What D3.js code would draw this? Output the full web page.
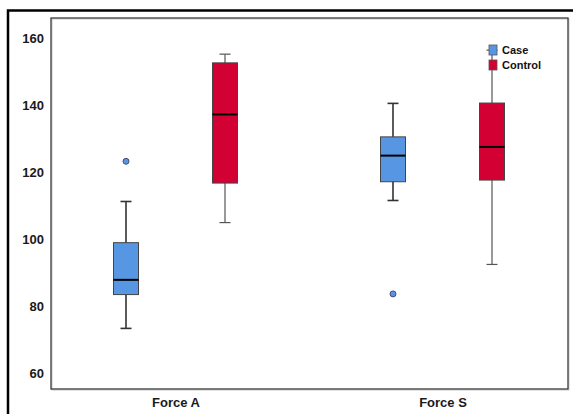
<!DOCTYPE html>
<html>
<head>
<meta charset="utf-8">
<script src="https://cdn.jsdelivr.net/npm/d3@7"></script>
<style>
  body { margin: 0; background: #fff; }
  text { font-family: "Liberation Sans", Arial, sans-serif; }
</style>
</head>
<body>
<div id="chart"></div>
<script>
// data
var categories = ["Force A", "Force S"];
var groups = ["Case", "Control"];
var colors = ["#5796e3", "#d30034"];
var yTicks = [60, 80, 100, 120, 140, 160];

// [whiskerLow, q1, median, q3, whiskerHigh] per group, per category
var caseStats = [[73.4, 83.5, 87.9, 99.0, 111.3], [111.6, 117.2, 125.0, 130.6, 140.6]];
var controlStats = [[105.0, 116.8, 137.3, 152.7, 155.3], [92.5, 117.7, 127.6, 140.7, 156.5]];
var caseOutliers = [[123.3], [83.7]];
var controlOutliers = [[], []];

var W = 573, H = 414;
var plot = {left: 51, top: 18, right: 568, bottom: 389};

var svg = d3.select("#chart")
  .append("svg")
    .attr("width", W)
    .attr("height", H);

// outer frame (runs off the right and bottom edges)
svg.append("rect")
  .attr("x", 8).attr("y", 10.5)
  .attr("width", W + 20).attr("height", H + 20)
  .attr("fill", "none")
  .attr("stroke", "#000")
  .attr("stroke-width", 2.5);

var y = d3.scaleLinear()
  .domain([55.3, 166.1])
  .range([plot.bottom, plot.top]);

var x = d3.scalePoint()
  .domain(categories)
  .range([175.5, 442.5]);

var xg = d3.scalePoint()
  .domain(groups)
  .range([-49.5, 49.5]);

var boxW = 25, capW = 11;

// plot frame
svg.append("rect")
  .attr("x", plot.left + 1).attr("y", plot.top + 1)
  .attr("width", plot.right - plot.left).attr("height", plot.bottom - plot.top)
  .attr("fill", "none").attr("stroke", "#c8c8c8").attr("stroke-width", 1);
svg.append("rect")
  .attr("x", plot.left).attr("y", plot.top)
  .attr("width", plot.right - plot.left).attr("height", plot.bottom - plot.top)
  .attr("fill", "none").attr("stroke", "#3a3a3a").attr("stroke-width", 1.3);

// y axis labels (no tick marks)
var yAxis = svg.append("g")
  .attr("transform", "translate(" + plot.left + ",0)")
  .call(d3.axisLeft(y).tickValues(yTicks).tickSize(0).tickPadding(7));
yAxis.select(".domain").remove();
yAxis.selectAll("text")
  .style("font-family", "'Liberation Sans', Arial, sans-serif")
  .style("font-size", "13px")
  .style("font-weight", "bold")
  .attr("fill", "#1a1a1a");

// x axis labels
var xAxis = svg.append("g")
  .attr("transform", "translate(0," + plot.bottom + ")")
  .call(d3.axisBottom(x).tickSize(0).tickPadding(9));
xAxis.select(".domain").remove();
xAxis.selectAll("text")
  .style("font-family", "'Liberation Sans', Arial, sans-serif")
  .style("font-size", "13px")
  .style("font-weight", "bold")
  .attr("fill", "#1a1a1a");

var allStats = [caseStats, controlStats];
var allOutliers = [caseOutliers, controlOutliers];
var whiskerColor = ["#333", "#555"];
var whiskerWidth = [1.6, 1.2];

var boxes = [];
groups.forEach(function(g, gi) {
  categories.forEach(function(c, ci) {
    boxes.push({cat: c, group: g, gi: gi, s: allStats[gi][ci], out: allOutliers[gi][ci]});
  });
});

var bg = svg.append("g").selectAll("g")
  .data(boxes)
  .enter()
  .append("g")
    .attr("transform", d => "translate(" + (x(d.cat) + xg(d.group)) + ",0)");

// whisker stem
bg.append("line")
  .attr("x1", 0).attr("x2", 0)
  .attr("y1", d => y(d.s[0])).attr("y2", d => y(d.s[4]))
  .attr("stroke", d => whiskerColor[d.gi])
  .attr("stroke-width", d => whiskerWidth[d.gi]);

// caps
bg.selectAll(".cap")
  .data(d => [d.s[0], d.s[4]].map(v => ({v: v, gi: d.gi})))
  .enter()
  .append("line")
    .attr("class", "cap")
    .attr("x1", -capW / 2).attr("x2", capW / 2)
    .attr("y1", d => y(d.v)).attr("y2", d => y(d.v))
    .attr("stroke", d => whiskerColor[d.gi])
    .attr("stroke-width", d => whiskerWidth[d.gi]);

// box
bg.append("rect")
  .attr("x", -boxW / 2)
  .attr("y", d => y(d.s[3]))
  .attr("width", boxW)
  .attr("height", d => y(d.s[1]) - y(d.s[3]))
  .attr("fill", d => colors[d.gi])
  .attr("stroke", "#444")
  .attr("stroke-width", 1);

// median
bg.append("line")
  .attr("x1", -boxW / 2).attr("x2", boxW / 2)
  .attr("y1", d => y(d.s[2])).attr("y2", d => y(d.s[2]))
  .attr("stroke", "#000")
  .attr("stroke-width", 2);

// outliers
bg.selectAll("circle")
  .data(d => d.out.map(v => ({v: v, gi: d.gi})))
  .enter()
  .append("circle")
    .attr("cx", 0)
    .attr("cy", d => y(d.v))
    .attr("r", 3)
    .attr("fill", d => colors[d.gi])
    .attr("stroke", "#335")
    .attr("stroke-width", 0.8);

// legend
var legend = svg.append("g")
  .attr("transform", "translate(489,45)");
var li = legend.selectAll("g")
  .data(groups)
  .enter()
  .append("g")
    .attr("transform", (d, i) => "translate(0," + (i * 15) + ")");
li.append("rect")
  .attr("width", 8).attr("height", 10)
  .attr("fill", (d, i) => colors[i])
  .attr("stroke", "#555")
  .attr("stroke-width", 0.8);
li.append("text")
  .attr("x", 13).attr("y", 9)
  .style("font-size", "11px")
  .style("font-weight", "bold")
  .attr("fill", "#111")
  .text(d => d);
</script>
</body>
</html>
